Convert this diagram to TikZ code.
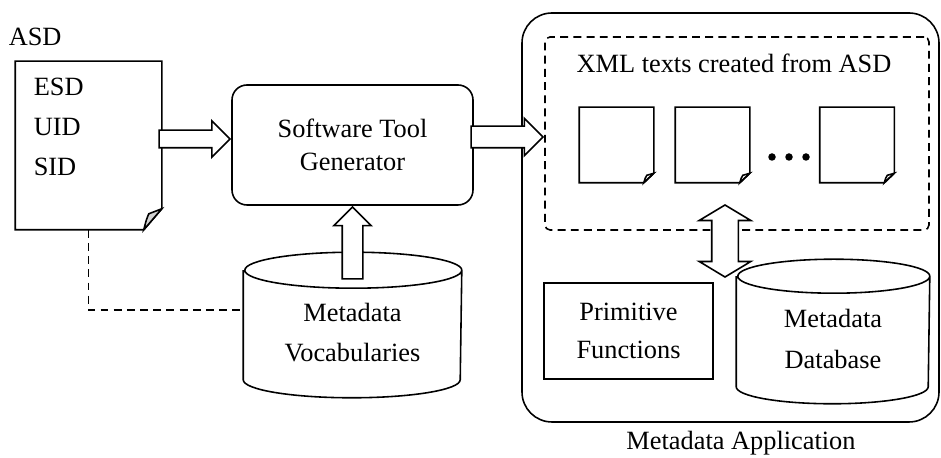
\documentclass[tikz,border=0pt]{standalone}
\usepackage{fontspec}
\setmainfont{Liberation Serif}
\usetikzlibrary{shapes.arrows,calc}

\begin{document}
\begin{tikzpicture}[
    font=\fontsize{15}{19}\selectfont,
    line width=0.9pt,
    boxnode/.style={draw, align=center, inner sep=0pt},
    shapenode/.style={inner sep=0pt},
    textnode/.style={align=center, inner sep=0pt},
    dashline/.style={dash pattern=on 4.5pt off 3pt},
    blockarrow/.style={single arrow, draw, fill=white, inner xsep=0pt, inner ysep=0.19cm,
        single arrow head extend=0.17cm}
    ]
        \useasboundingbox (0,0) rectangle (18.82,9.16);

        % ASD document
        \node[textnode, anchor=west] (asdlbl) at (0.16,8.42) {ASD};
        \node[shapenode, minimum width=2.90cm, minimum height=3.34cm] (asd) at (1.77,6.25) {};
        \draw (asd.north west) -- (asd.north east) -- ([yshift=0.42cm]asd.south east)
            -- ([xshift=-0.36cm]asd.south east) -- (asd.south west) -- cycle;
        \filldraw[fill=gray!35] ([yshift=0.42cm]asd.south east) -- ([xshift=-0.36cm]asd.south east)
            .. controls ([xshift=-0.31cm,yshift=0.20cm]asd.south east) .. ([xshift=-0.26cm,yshift=0.32cm]asd.south east) -- cycle;
        \node[textnode, anchor=west] (esd) at (0.66,7.42) {ESD};
        \node[textnode, anchor=west] (uid) at (0.66,6.62) {UID};
        \node[textnode, anchor=west] (sid) at (0.66,5.82) {SID};

        % Generator
        \node[boxnode, rounded corners=0.3cm, minimum width=4.82cm, minimum height=2.40cm] (gen) at (7.05,6.26) {Software Tool\\Generator};

        % Metadata vocabularies
        \node[shapenode, minimum width=4.34cm, minimum height=2.88cm] (voc) at (7.05,2.66) {};
        \draw[fill=white] ([yshift=-0.36cm]voc.north west) -- ([yshift=0.36cm]voc.south west)
            arc[start angle=180, end angle=360, x radius=2.17cm, y radius=0.36cm]
            -- ([yshift=-0.36cm]voc.north east)
            arc[start angle=0, end angle=360, x radius=2.17cm, y radius=0.36cm];
        \node[textnode] (voctxt) at ([yshift=-0.16cm]voc.center) {Metadata\\[3.7pt]Vocabularies};

        % Metadata application
        \node[draw, rounded corners=0.6cm, inner sep=0pt, minimum width=8.34cm, minimum height=8.18cm] (app) at (14.61,4.81) {};
        \node[textnode] (applbl) at (14.82,0.30) {Metadata Application};

        % XML texts
        \node[draw, dashline, rounded corners=0.1cm, inner sep=0pt, minimum width=7.68cm, minimum height=3.86cm] (xml) at (14.74,6.49) {};
        \node[textnode] (xmllbl) at (14.68,7.90) {XML texts created from ASD};
        \node[shapenode, minimum width=1.46cm, minimum height=1.48cm] (d1) at (12.33,6.26) {};
        \node[shapenode, minimum width=1.46cm, minimum height=1.48cm] (d2) at (14.25,6.26) {};
        \node[shapenode, minimum width=1.46cm, minimum height=1.48cm] (d3) at (17.14,6.26) {};
        \foreach \d in {d1,d2,d3} {
            \draw (\d.north west) -- (\d.north east) -- ([yshift=0.19cm]\d.south east)
                -- ([xshift=-0.2cm]\d.south east) -- (\d.south west) -- cycle;
            \draw ([yshift=0.19cm]\d.south east) -- ([xshift=-0.2cm]\d.south east)
                .. controls ([xshift=-0.17cm,yshift=0.1cm]\d.south east) .. ([xshift=-0.14cm,yshift=0.15cm]\d.south east) -- cycle;
        }
        \foreach \x in {15.44,15.78,16.12}
            \fill (\x,6.02) circle (0.075cm);

        % Primitive functions
        \node[boxnode, minimum width=3.38cm, minimum height=1.92cm] (prim) at (12.57,2.54) {Primitive\\[2.5pt]Functions};

        % Metadata database
        \node[shapenode, minimum width=3.84cm, minimum height=2.86cm] (db) at (16.66,2.53) {};
        \draw[fill=white] ([yshift=-0.34cm]db.north west) -- ([yshift=0.34cm]db.south west)
            arc[start angle=180, end angle=360, x radius=1.92cm, y radius=0.34cm]
            -- ([yshift=-0.34cm]db.north east)
            arc[start angle=0, end angle=360, x radius=1.92cm, y radius=0.34cm];
        \node[textnode] (dbtxt) at ([yshift=-0.15cm]db.center) {Metadata\\[4.8pt]Database};

        % Connections
        \node[blockarrow, inner ysep=0.16cm, single arrow head extend=0.19cm, minimum height=1.42cm, anchor=tip] (asdgen) at ([yshift=0.12cm]gen.west) {};
        \node[blockarrow, rotate=90, minimum height=1.44cm, anchor=tip] (vocgen) at (gen.south) {};
        \node[blockarrow, inner ysep=0.2cm, single arrow head extend=0.16cm, minimum height=1.44cm, anchor=tip] (genxml) at ([yshift=-0.07cm]xml.west) {};
        \node[double arrow, draw, fill=white, rotate=90, inner xsep=0pt, inner ysep=0.25cm, minimum height=1.44cm,
            double arrow head extend=0.25cm, double arrow tip angle=118] (xmldb) at (14.50,4.34) {};
        \draw[dashline] (asd.south) |- ([yshift=0.30cm]voc.west);
\end{tikzpicture}
\end{document}
